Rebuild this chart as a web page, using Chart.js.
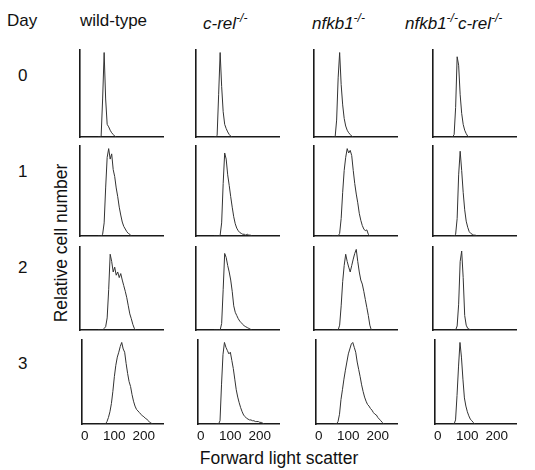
<!DOCTYPE html>
<html>
<head>
<meta charset="utf-8">
<script src="https://cdn.jsdelivr.net/npm/chart.js@4.4.1/dist/chart.umd.min.js"></script>
<style>
  body { margin: 0; background: #fff; }
  #fig { position: relative; width: 535px; height: 470px; font-family: "Liberation Sans", Arial, sans-serif; color: #111; }
  .lbl { position: absolute; white-space: nowrap; font-size: 17px; line-height: 1; }
  .lbl sup { font-size: 12px; vertical-align: 7px; }
  canvas { position: absolute; }
</style>
</head>
<body>
<div id="fig">
  <div class="lbl" style="left:7px; top:12px;">Day</div>
  <div class="lbl" style="left:80px; top:12px;">wild-type</div>
  <div class="lbl" style="left:203px; top:12px;"><i>c-rel</i><sup><i>-/-</i></sup></div>
  <div class="lbl" style="left:312px; top:12px;"><i>nfkb1</i><sup><i>-/-</i></sup></div>
  <div class="lbl" style="left:405px; top:12px;"><i>nfkb1</i><sup><i>-/-</i></sup><i>c-rel</i><sup><i>-/-</i></sup></div>
  <div class="lbl" style="left:18px; top:67px;">0</div>
  <div class="lbl" style="left:18px; top:163px;">1</div>
  <div class="lbl" style="left:18px; top:259px;">2</div>
  <div class="lbl" style="left:18px; top:355px;">3</div>
  <div class="lbl" style="left:62px; top:243px; font-size:17.5px; transform: translate(-50%, -50%) rotate(-90deg);">Relative cell number</div>
  <div class="lbl" style="left:279px; top:459px; font-size:17.5px; transform: translate(-50%, -50%);">Forward light scatter</div>
</div>
<script>
// forward scatter channel of each histogram bin
const channels = [50, 55, 60, 65, 70, 75, 80, 85, 90, 95, 100, 105, 110, 115, 120, 125, 130, 135, 140, 145,
  150, 155, 160, 165, 170, 175, 180, 185, 190, 195, 200, 205, 210, 215, 220, 225, 230, 235, 240];
const xTicks = [0, 100, 200];

// relative cell number per bin (day 0..3, one list per genotype)
const wtDay0 = [0, 0, 1, 45, 100, 45, 15, 12, 8, 5, 3, 1, 0];
const crelDay0 = [0, 0, 2, 50, 100, 60, 30, 15, 10, 6, 3, 1, 0];
const nfkbDay0 = [0, 0, 0, 20, 70, 100, 62, 38, 22, 13, 8, 5, 3, 1, 0];
const dkoDay0 = [0, 0, 3, 35, 95, 85, 50, 28, 15, 8, 4, 1, 0];

const wtDay1 = [0, 0, 0, 2, 15, 55, 90, 100, 88, 94, 76, 68, 55, 45, 33, 24, 16, 11, 8, 5, 3, 2, 0];
const crelDay1 = [0, 0, 0, 0, 1, 15, 60, 95, 88, 70, 58, 45, 33, 22, 14, 9, 6, 4, 3, 2, 2, 1, 2, 1, 1, 0];
const nfkbDay1 = [0, 0, 0, 0, 0, 3, 20, 50, 75, 90, 100, 95, 98, 92, 75, 60, 48, 38, 26, 18, 12, 8, 6, 7, 2, 0];
const dkoDay1 = [0, 0, 0, 2, 20, 70, 97, 75, 50, 30, 17, 10, 5, 3, 2, 1, 1, 0];

const wtDay2 = [0, 0, 0, 0, 2, 4, 15, 50, 94, 85, 72, 78, 68, 72, 65, 70, 62, 55, 48, 40, 30, 20, 14, 7, 2, 0];
const crelDay2 = [0, 0, 0, 0, 0, 8, 50, 95, 90, 80, 72, 62, 48, 30, 22, 18, 14, 11, 9, 7, 5, 4, 3, 2, 1, 0];
const nfkbDay2 = [0, 0, 0, 0, 0, 6, 30, 60, 80, 94, 85, 78, 72, 80, 88, 95, 100, 85, 72, 62, 57, 48, 38, 28, 18, 6, 0];
const dkoDay2 = [0, 0, 0, 0, 5, 32, 85, 98, 65, 18, 6, 2, 1, 0];

const wtDay3 = [0, 0, 0, 0, 0, 3, 8, 15, 25, 40, 58, 72, 82, 88, 95, 100, 92, 88, 74, 62, 52, 46, 36, 28, 22,
  18, 16, 14, 12, 10, 9, 7, 6, 4, 2, 1, 0];
const crelDay3 = [0, 0, 0, 4, 48, 85, 100, 94, 90, 86, 88, 78, 68, 55, 42, 33, 26, 20, 15, 11, 9, 7, 6, 5, 5,
  4, 4, 3, 3, 3, 2, 2, 1, 0];
const nfkbDay3 = [0, 0, 0, 3, 12, 30, 42, 55, 66, 76, 86, 92, 98, 100, 94, 88, 76, 67, 58, 48, 40, 33, 28, 24,
  22, 19, 17, 14, 12, 11, 8, 6, 4, 2, 0];
const dkoDay3 = [0, 0, 5, 35, 70, 100, 82, 55, 32, 22, 15, 10, 6, 4, 2, 0];

const grid = [
  [wtDay0, crelDay0, nfkbDay0, dkoDay0],
  [wtDay1, crelDay1, nfkbDay1, dkoDay1],
  [wtDay2, crelDay2, nfkbDay2, dkoDay2],
  [wtDay3, crelDay3, nfkbDay3, dkoDay3]
];

// panel placement in the figure
const colLeft = [80, 196, 314, 433];
const plotW = 83;
const rowTop = [50, 146, 247, 340];
const rowBottom = [137, 236, 330, 424];
const pad = 3;
const tickH = 20;

const fig = document.getElementById('fig');

grid.forEach(function (row, r) {
  const last = r === grid.length - 1;
  row.forEach(function (vals, c) {
    const cv = document.createElement('canvas');
    const w = plotW + 2 * pad;
    const h = rowBottom[r] - rowTop[r] + 2 * pad + (last ? tickH : 0);
    cv.width = w;
    cv.height = h;
    cv.style.left = (colLeft[c] - pad) + 'px';
    cv.style.top = (rowTop[r] - pad) + 'px';
    cv.style.width = w + 'px';
    cv.style.height = h + 'px';
    fig.appendChild(cv);

    new Chart(cv.getContext('2d'), {
      type: 'line',
      data: {
        datasets: [{
          data: vals.map(function (v, i) { return { x: channels[i], y: v }; }),
          borderColor: '#333',
          borderWidth: 1,
          pointRadius: 0,
          tension: 0,
          fill: false
        }]
      },
      options: {
        responsive: false,
        animation: false,
        layout: { padding: { left: pad, right: pad, top: pad, bottom: pad } },
        plugins: { legend: { display: false }, tooltip: { enabled: false } },
        scales: {
          x: {
            type: 'linear',
            min: -10,
            max: 265,
            z: 1,
            grid: { display: false, drawTicks: false },
            border: { color: '#1a1a1a', width: 1.6 },
            afterBuildTicks: function (s) { s.ticks = xTicks.map(function (v) { return { value: v }; }); },
            afterFit: function (s) { s.height = last ? tickH : 0; },
            ticks: {
              display: last,
              autoSkip: false,
              maxRotation: 0,
              padding: 4,
              color: '#111',
              font: { family: '"Liberation Sans", Arial, sans-serif', size: 13.5 }
            }
          },
          y: {
            min: 0,
            max: 103,
            z: 1,
            grid: { display: false, drawTicks: false },
            border: { color: '#1a1a1a', width: 1.6 },
            afterFit: function (s) { s.width = 0; },
            ticks: { display: false }
          }
        }
      }
    });
  });
});
</script>
</body>
</html>
